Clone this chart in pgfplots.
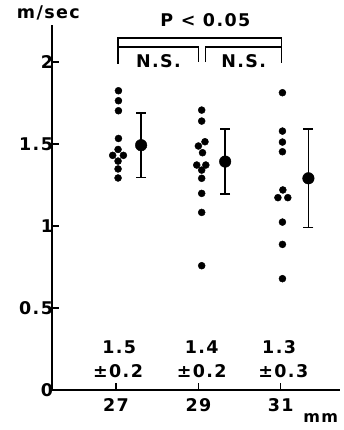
\documentclass[border=0pt]{standalone}
\usepackage{fontspec}
\setmainfont{DejaVu Sans}
\newfontfamily\lbl[LetterSpace=8]{DejaVu Sans Bold}
\usepackage{pgfplots}
\pgfplotsset{compat=1.18}
\newcommand\fs{\lbl\fontsize{17.5}{19}\selectfont}
\begin{document}
\begin{tikzpicture}
\begin{axis}[
 scale only axis, width=288pt, height=365pt,
 xmin=25.447, xmax=32.437, ymin=0, ymax=2.226,
 axis x line=bottom, axis y line=left,
 axis line style={-, line width=1.6pt},
 xtick={27,29,31}, ytick={0,0.5,1,1.5,2},
 yticklabels={0,0.5,1,1.5,2},
 xticklabels={27,29,31},
 tick align=inside, major tick length=7pt,
 tick style={line width=1.3pt, black},
 ticklabel style={font=\fs},
 /pgf/number format/assume math mode=true,
 xticklabel style={yshift=-5pt},
 yticklabel style={xshift=4.5pt},
 clip=false,
]
% individual values
\addplot[only marks, mark=*, mark size=3.5pt, black] coordinates {
 (27.06,1.825) (27.06,1.764) (27.06,1.703) (27.06,1.534) (27.05,1.467)
 (26.92,1.431) (27.18,1.431) (27.05,1.396) (27.05,1.348) (27.05,1.293)
};
\addplot[only marks, mark=*, mark size=3.5pt, black] coordinates {
 (29.08,1.707) (29.08,1.640) (29.16,1.514) (29.00,1.488) (29.10,1.447)
 (28.96,1.372) (29.18,1.372) (29.08,1.341) (29.08,1.291) (29.08,1.199)
 (29.08,1.083) (29.08,0.758)
};
\addplot[only marks, mark=*, mark size=3.5pt, black] coordinates {
 (31.04,1.813) (31.04,1.579) (31.04,1.512) (31.04,1.453) (31.05,1.220)
 (30.93,1.173) (31.17,1.173) (31.04,1.024) (31.04,0.888) (31.04,0.679)
};
% means with SD
\addplot[only marks, mark=*, mark size=5.8pt, black,
 error bars/.cd, y dir=both, y explicit,
 error bar style={line width=1.6pt, black},
 error mark options={rotate=90, mark size=5pt, line width=1.6pt, black}]
 coordinates {
 (27.61,1.493) +- (0,0.197)
 (29.65,1.393) +- (0,0.198)
 (31.67,1.291) +- (0,0.300)
};
% brackets
\draw[line width=1.6pt] (axis cs:27.05,1.99) |- (axis cs:31.02,2.146) -- (axis cs:31.02,1.995);
\draw[line width=1.6pt] (axis cs:27.05,2.091) -| (axis cs:29.0,2.0);
\draw[line width=1.6pt] (axis cs:29.17,2.0) |- (axis cs:31.02,2.091);
\node[font=\fs] at (axis cs:29.17,2.256) {P < 0.05};
\node[font=\fs] at (axis cs:28.03,2.008) {N.S.};
\node[font=\fs] at (axis cs:30.10,2.008) {N.S.};
% summary numbers
\node[font=\fs] at (axis cs:27.08,0.262) {1.5};
\node[font=\fs] at (axis cs:27.05,0.116) {±0.2};
\node[font=\fs] at (axis cs:29.08,0.262) {1.4};
\node[font=\fs] at (axis cs:29.08,0.116) {±0.2};
\node[font=\fs] at (axis cs:30.96,0.262) {1.3};
\node[font=\fs] at (axis cs:31.06,0.116) {±0.3};
% units
\node[font=\fs] at (axis cs:25.36,2.299) {m/sec};
\node[font=\lbl\fontsize{16}{17}\selectfont] at (axis cs:31.97,-0.168) {mm};
\coordinate (o) at (rel axis cs:0,0);
\end{axis}
\pgfresetboundingbox
\path[use as bounding box] (o) ++(-52pt,-40pt) rectangle ++(343pt,430pt);
\end{tikzpicture}
\end{document}
